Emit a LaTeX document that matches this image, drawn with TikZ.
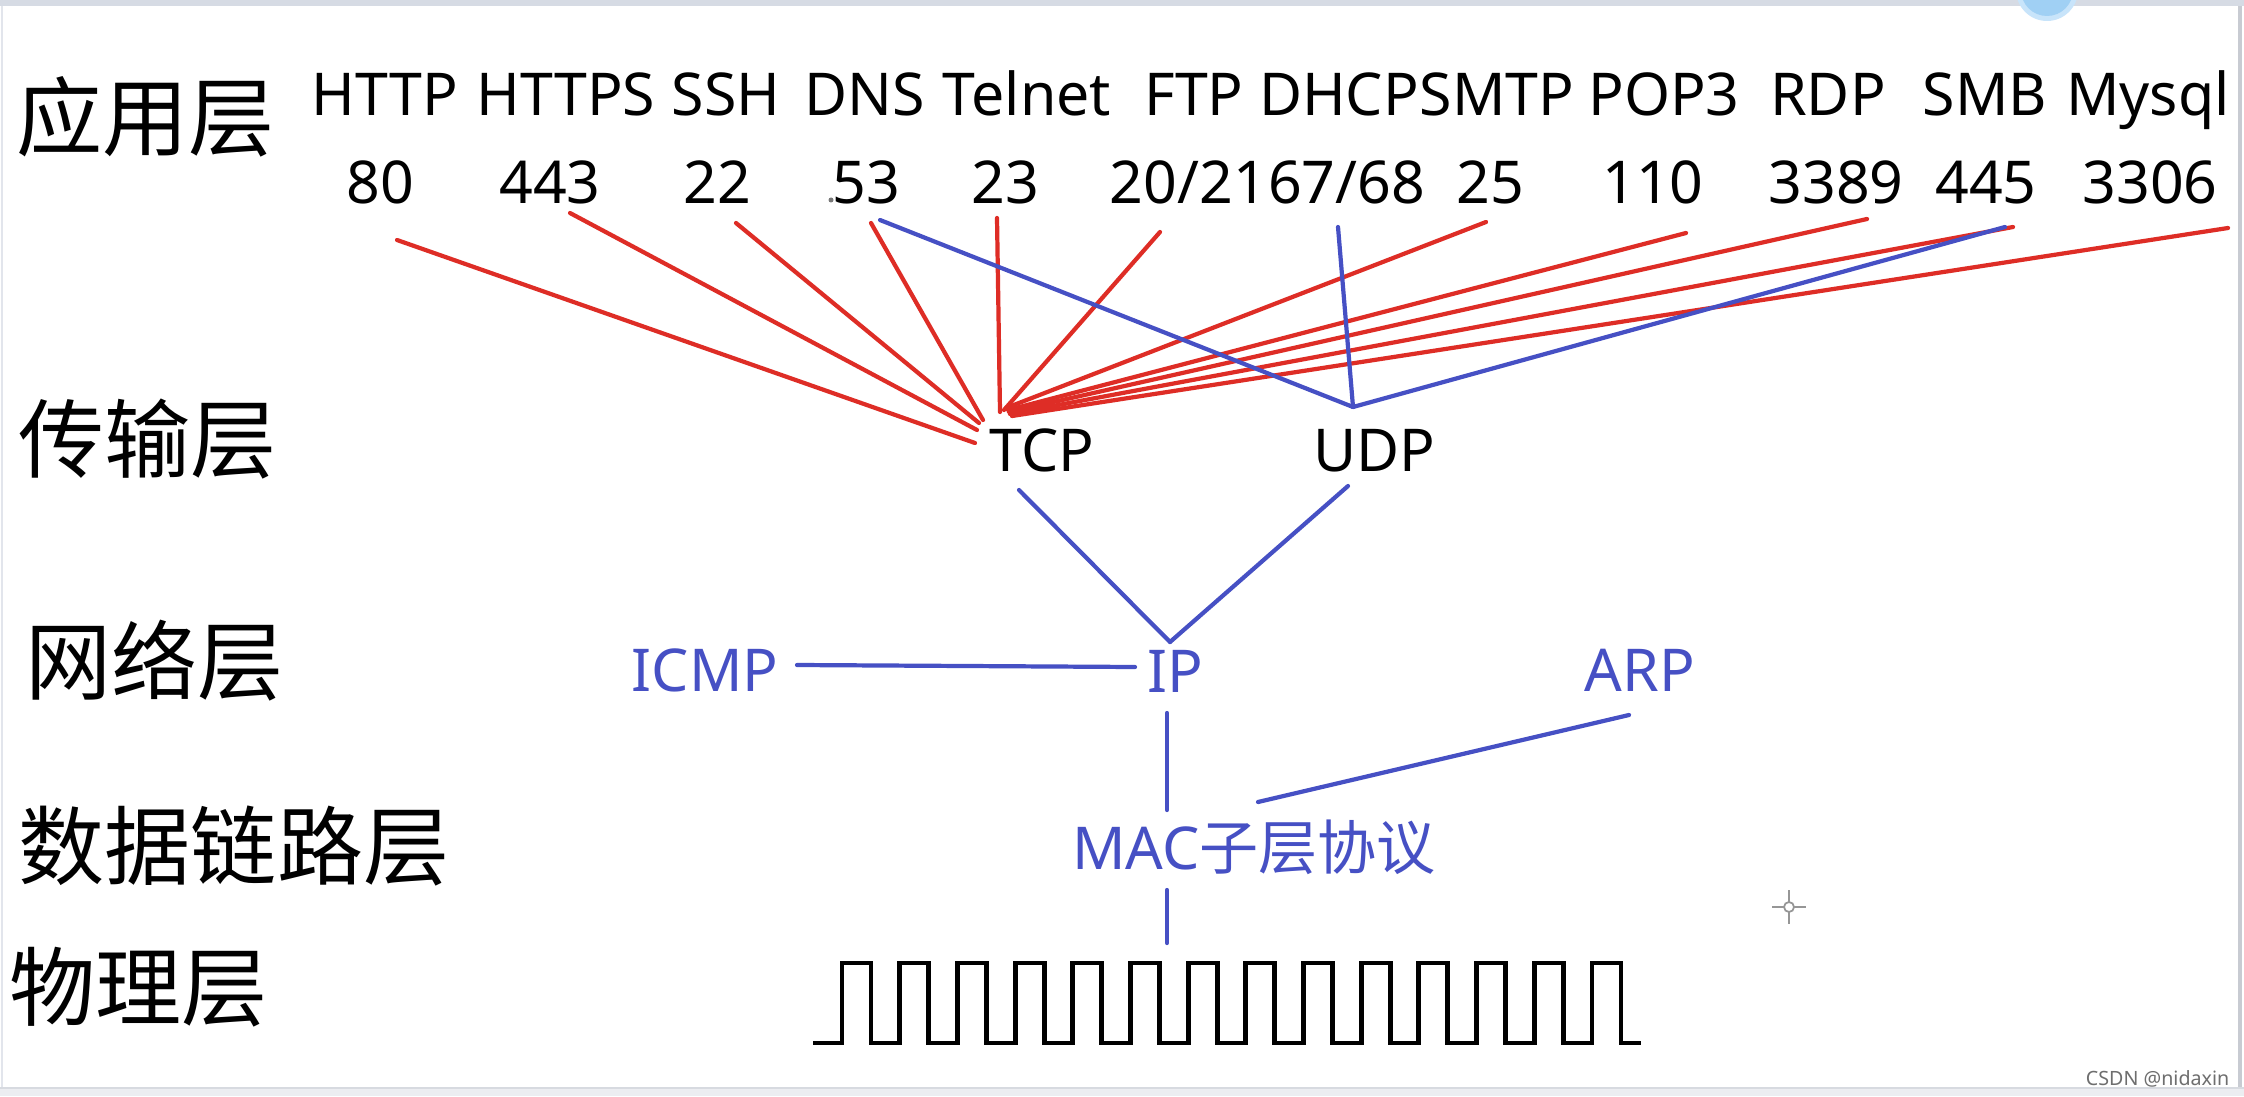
\documentclass[tikz,border=0pt]{standalone}
\usepackage{fontspec}
\setmainfont{Noto Sans}
\newfontfamily\cjk{Noto Sans CJK SC}
\definecolor{myred}{RGB}{222,45,38}
\definecolor{myblue}{RGB}{70,80,196}
\definecolor{frame}{RGB}{214,219,228}
\definecolor{glow}{RGB}{200,228,250}
\definecolor{dot}{RGB}{160,208,244}
\definecolor{leftedge}{RGB}{226,229,236}
\definecolor{rightedge}{RGB}{200,203,210}
\definecolor{bottombar}{RGB}{236,237,241}
\definecolor{bottomline}{RGB}{215,218,224}
\definecolor{cursorgray}{RGB}{150,150,150}
\definecolor{wmgray}{RGB}{110,110,110}
\definecolor{straydot}{RGB}{120,120,120}
\begin{document}
\begin{tikzpicture}[x=0.1mm,y=-0.1mm,
  lat/.style={inner sep=0pt, anchor=base, font=\fontsize{16.8pt}{20pt}\selectfont},
  blu/.style={lat, text=myblue},
  layer/.style={inner sep=0pt, anchor=west, font=\cjk\fontsize{24.5pt}{28pt}\selectfont},
  redline/.style={draw=myred, line width=1.2pt, line cap=round},
  blueline/.style={draw=myblue, line width=1.2pt, line cap=round},
  wave/.style={draw=black, line width=1.4pt}]
\useasboundingbox (0,0) rectangle (2244,1096);
\fill[white] (0,0) rectangle (2244,1096);
% screenshot frame
\fill[frame] (0,0) rectangle (2244,6);
\begin{scope}
\clip (0,0) rectangle (2244,1096);
\fill[glow] (2047,-10) circle (31);
\fill[dot] (2047,-10) circle (26);
\end{scope}
\draw[leftedge, line width=0.8pt] (2,6) -- (2,1088);
\draw[rightedge, line width=1pt] (2240,6) -- (2240,1088);
\fill[bottombar] (0,1088) rectangle (2244,1096);
\draw[bottomline, line width=0.4pt] (0,1088) -- (2244,1088);

% layer labels
\node[layer] (Lapp) at (16,117) {应用层};
\node[layer] (Ltra) at (18,439) {传输层};
\node[layer] (Lnet) at (25,661) {网络层};
\node[layer] (Llink) at (18,846) {数据链路层};
\node[layer] (Lphy) at (9,987) {物理层};

% protocol names
\node[lat] (nHTTP) at (385,116) {HTTP};
\node[lat] (nHTTPS) at (566,116) {HTTPS};
\node[lat] (nSSH) at (726,116) {SSH};
\node[lat] (nDNS) at (865,116) {DNS};
\node[lat] (nTelnet) at (1027,116) {Telnet};
\node[lat] (nFTP) at (1194,116) {FTP};
\node[lat] (nDHCP) at (1339,116) {DHCP};
\node[lat] (nSMTP) at (1497,116) {SMTP};
\node[lat] (nPOP) at (1664,116) {POP3};
\node[lat] (nRDP) at (1828,116) {RDP};
\node[lat] (nSMB) at (1985,116) {SMB};
\node[lat] (nMysql) at (2148,116) {Mysql};

% ports
\node[lat] (q80) at (380,203) {80};
\node[lat] (q443) at (550,203) {443};
\node[lat] (q22) at (717,203) {22};
\node[lat] (q53) at (866,203) {53};
\fill[straydot] (831,200) circle (2.5);
\node[lat] (q23) at (1005,203) {23};
\node[lat, anchor=base west] (q2021) at (1109,203) {20/21};
\node[lat, anchor=base west] (q6768) at (q2021.base east) {67/68};
\node[lat] (q25) at (1490,203) {25};
\node[lat] (q110) at (1653,203) {110};
\node[lat] (q3389) at (1836,203) {3389};
\node[lat] (q445) at (1986,203) {445};
\node[lat] (q3306) at (2150,203) {3306};

% transport / network / link
\node[lat] (TCP) at (1042,471) {TCP};
\node[lat] (UDP) at (1374,471) {UDP};
\node[blu] (ICMP) at (705,691) {ICMP};
\node[blu] (IP) at (1175,692) {IP};
\node[blu] (ARP) at (1640,691) {ARP};
\node[blu] (MAC) at (1254,869) {MAC{\cjk 子层协议}};

% line end points
\coordinate (s80) at (397,240);   \coordinate (e80) at (975,443);
\coordinate (s443) at (570,213);  \coordinate (e443) at (977,430);
\coordinate (s22) at (736,223);   \coordinate (e22) at (979,423);
\coordinate (s53) at (871,223);   \coordinate (e53) at (983,420);
\coordinate (s23) at (997,218);   \coordinate (e23) at (1000,412);
\coordinate (s2021) at (1160,232); \coordinate (e2021) at (1004,410);
\coordinate (s25) at (1486,222);  \coordinate (e25) at (1006,408);
\coordinate (s110) at (1686,233); \coordinate (e110) at (1008,410);
\coordinate (s3389) at (1867,219); \coordinate (e3389) at (1009,412);
\coordinate (s445) at (2013,227); \coordinate (e445) at (1010,414);
\coordinate (s3306) at (2228,228); \coordinate (e3306) at (1012,416);

\coordinate (b53) at (880,220);
\coordinate (b6768) at (1338,227);
\coordinate (b445) at (2005,227);
\coordinate (ujoin) at (1353,407);
\coordinate (tcpb) at (1019,490);
\coordinate (udpb) at (1348,486);
\coordinate (ipt) at (1170,642);
\coordinate (icmpr) at (797,665);
\coordinate (ipl) at (1135,667);
\coordinate (ipb) at (1167,713);
\coordinate (mact) at (1167,810);
\coordinate (arpb) at (1629,715);
\coordinate (macr) at (1258,802);
\coordinate (macb) at (1167,890);
\coordinate (wavet) at (1167,943);

% red TCP lines
\foreach \p in {80,443,22,53,23,2021,25,110,3389,445,3306}
  \draw[redline] (s\p) -- (e\p);

% blue lines
\draw[blueline] (b53) -- (ujoin);
\draw[blueline] (b6768) -- (ujoin);
\draw[blueline] (b445) -- (ujoin);
\draw[blueline] (tcpb) -- (ipt);
\draw[blueline] (udpb) -- (ipt);
\draw[blueline] (icmpr) -- (ipl);
\draw[blueline] (ipb) -- (mact);
\draw[blueline] (arpb) -- (macr);
\draw[blueline] (macb) -- (wavet);

% physical signal
\draw[wave] (813,1043) foreach \i in {0,...,13} {
  -- ({842+57.69*\i},1043) -- ({842+57.69*\i},963)
  -- ({871+57.69*\i},963) -- ({871+57.69*\i},1043) } -- (1641,1043);

% cursor mark
\draw[cursorgray, line width=0.6pt] (1789,890) -- (1789,924);
\draw[cursorgray, line width=0.6pt] (1772,907) -- (1806,907);
\filldraw[draw=cursorgray, fill=white, line width=0.5pt] (1789,907) circle (5);

% watermark
\node[inner sep=0pt, anchor=base east, font=\fontsize{5.6pt}{7pt}\selectfont, text=wmgray] (wm) at (2230,1085) {CSDN @nidaxin};
\end{tikzpicture}
\end{document}
